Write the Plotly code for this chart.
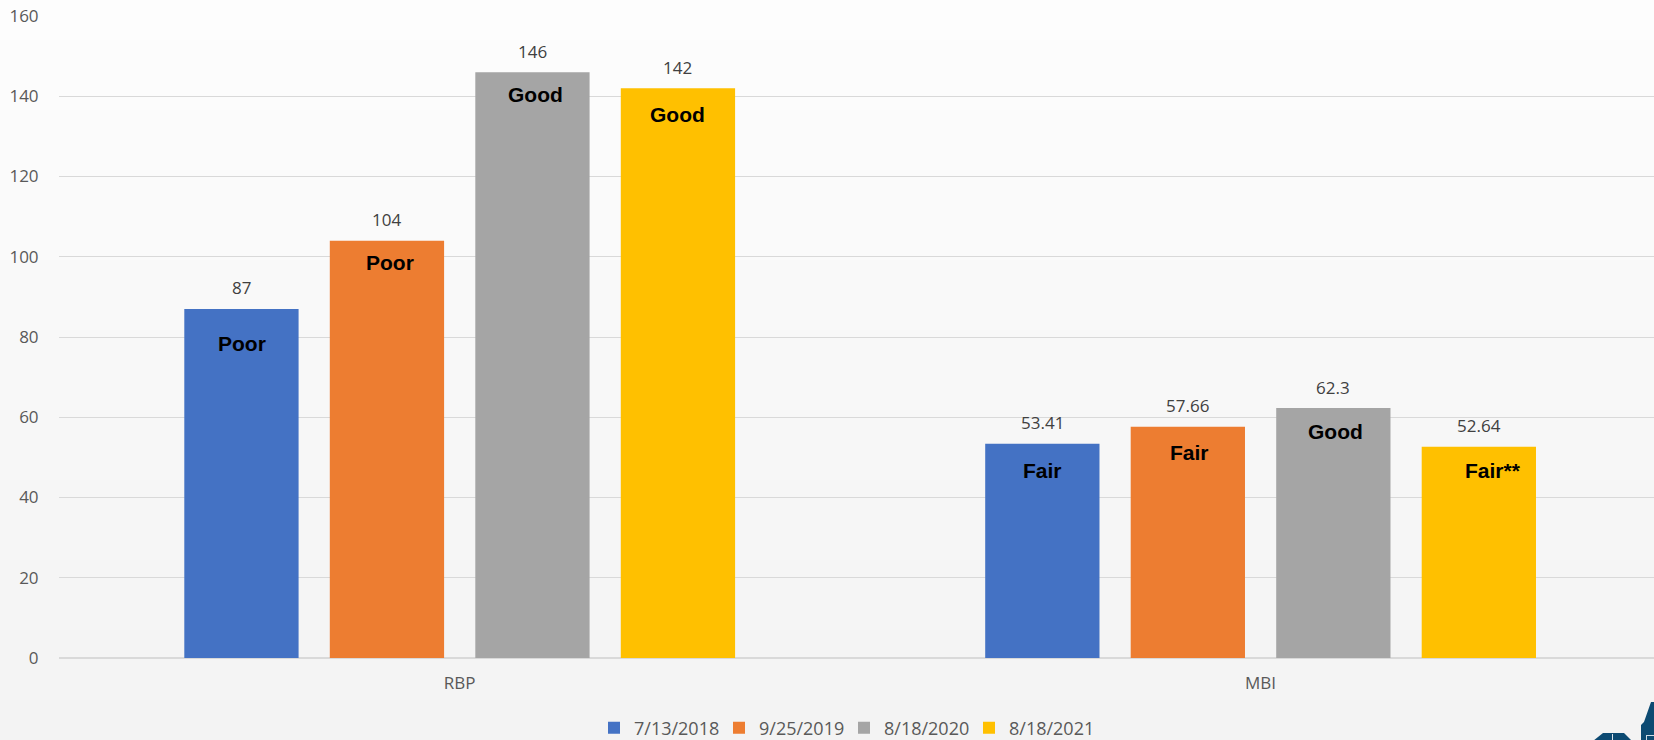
import plotly.graph_objects as go

# ---- data ----
categories = ["RBP", "MBI"]
survey_dates = ["7/13/2018", "9/25/2019", "8/18/2020", "8/18/2021"]
scores_2018 = [87, 53.41]
scores_2019 = [104, 57.66]
scores_2020 = [146, 62.3]
scores_2021 = [142, 52.64]
ratings_2018 = ["Poor", "Fair"]
ratings_2019 = ["Poor", "Fair"]
ratings_2020 = ["Good", "Good"]
ratings_2021 = ["Good", "Fair**"]
y_ticks = [0, 20, 40, 60, 80, 100, 120, 140, 160]

series_values = [scores_2018, scores_2019, scores_2020, scores_2021]
series_ratings = [ratings_2018, ratings_2019, ratings_2020, ratings_2021]

# ---- style ----
colors = ["#4472C4", "#ED7D31", "#A5A5A5", "#FFC000"]
W, H = 1654, 740
M_L, M_R, M_T, M_B = 59, 0, 16, 82
PLOT_W = W - M_L - M_R
PLOT_H = H - M_T - M_B
SLOT = 0.18167          # spacing between bars in a group (category units)
BAR_W = 0.1427          # bar width (category units)
X_RANGE = [-0.5003, 1.4912]

# rating label placement: pixels below bar top, and horizontal nudge
rating_drop_px = [[35, 27], [22, 26], [22, 23.5], [26.7, 24]]
rating_dx_px = [[1, 0], [3, 2], [3.5, 2], [0, 14]]

fig = go.Figure()
annotations = []

for j, (name, vals, rats) in enumerate(zip(survey_dates, series_values, series_ratings)):
    xs = [i + (j - 1.5) * SLOT for i in range(len(categories))]
    fig.add_trace(go.Bar(
        x=xs, y=vals, width=BAR_W, name=name,
        marker=dict(color=colors[j], line=dict(width=0)),
        hoverinfo="skip",
    ))
    for i, (x, v, r) in enumerate(zip(xs, vals, rats)):
        # numeric value above the bar
        annotations.append(dict(
            x=x, y=v, xref="x", yref="y", text=f"{v:g}", showarrow=False,
            yanchor="middle", yshift=21,
            font=dict(family="Open Sans", size=17, color="#404040"),
        ))
        # condition rating inside the bar
        annotations.append(dict(
            x=x, y=v, xref="x", yref="y", text=f"<b>{r}</b>", showarrow=False,
            yanchor="middle", yshift=-rating_drop_px[j][i], xshift=rating_dx_px[j][i],
            font=dict(family="Liberation Sans, Arial", size=21, color="#000000"),
        ))

# soft vertical background gradient
shapes = []
n_bands = 74
top_c, bot_c = (253, 253, 253), (243, 243, 243)
for k in range(n_bands):
    t = (k + 0.5) / n_bands
    c = tuple(round(top_c[m] + (bot_c[m] - top_c[m]) * t) for m in range(3))
    py0 = H * k / n_bands
    py1 = H * (k + 1) / n_bands + 0.5
    shapes.append(dict(
        type="rect", xref="paper", yref="paper", layer="below",
        x0=-M_L / PLOT_W, x1=1 + 0.01,
        y0=(H - M_B - py1) / PLOT_H, y1=(H - M_B - py0) / PLOT_H,
        fillcolor=f"rgb{c}", line=dict(width=0),
    ))


def px2paper(px, py):
    return (px - M_L) / PLOT_W, (H - M_B - py) / PLOT_H


def path_from(points):
    pts = [px2paper(*p) for p in points]
    return "M" + " L".join(f"{a:.5f},{b:.5f}" for a, b in pts) + " Z"


# corner logo fragment
logo_color = "#0C4A72"
shapes.append(dict(type="path", xref="paper", yref="paper", layer="above",
                   path=path_from([(1593, 741), (1603, 733), (1624, 733), (1632, 741)]),
                   fillcolor=logo_color, line=dict(width=0)))
shapes.append(dict(type="path", xref="paper", yref="paper", layer="above",
                   path=path_from([(1612, 734), (1613, 734), (1613, 741), (1612, 741)]),
                   fillcolor="#dfe7ee", line=dict(width=0)))
shapes.append(dict(type="path", xref="paper", yref="paper", layer="above",
                   path=path_from([(1641, 741), (1641, 725), (1644, 722), (1651, 702),
                                   (1655, 702), (1655, 741)]),
                   fillcolor=logo_color, line=dict(width=0)))
shapes.append(dict(type="path", xref="paper", yref="paper", layer="above",
                   path=path_from([(1646, 735), (1655, 735), (1655, 741), (1646, 741)]),
                   fillcolor="#cfdbe5", line=dict(width=0)))
shapes.append(dict(type="path", xref="paper", yref="paper", layer="above",
                   path=path_from([(1647, 736), (1655, 736), (1655, 741), (1647, 741)]),
                   fillcolor=logo_color, line=dict(width=0)))

fig.update_layout(
    width=W, height=H,
    margin=dict(l=M_L, r=M_R, t=M_T, b=M_B, pad=0),
    paper_bgcolor="#f5f5f5",
    plot_bgcolor="rgba(0,0,0,0)",
    barmode="overlay",
    font=dict(family="Open Sans", color="#595959"),
    showlegend=True,
    legend=dict(
        orientation="h", x=594 / W, xref="container", xanchor="left",
        y=1 - 728 / H, yref="container", yanchor="middle",
        font=dict(family="Open Sans", size=18, color="#595959"),
        bgcolor="rgba(0,0,0,0)", itemclick=False, itemdoubleclick=False,
        traceorder="normal", entrywidth=80, tracegroupgap=0,
    ),
    xaxis=dict(
        range=X_RANGE, tickmode="array", tickvals=list(range(len(categories))),
        ticktext=categories, showgrid=False, zeroline=False,
        showline=False, ticks="outside", ticklen=10, tickcolor="rgba(0,0,0,0)",
        tickfont=dict(family="Open Sans", size=17, color="#595959"),
        fixedrange=True,
    ),
    yaxis=dict(
        range=[0, 160], tickmode="array", tickvals=y_ticks,
        showgrid=True, gridcolor="#d9d9d9", gridwidth=1.3,
        zeroline=True, zerolinecolor="#d9d9d9", zerolinewidth=1.5,
        showline=False, ticks="outside", ticklen=16, tickcolor="rgba(0,0,0,0)",
        tickfont=dict(family="Open Sans", size=17, color="#595959"),
        fixedrange=True,
    ),
    annotations=annotations,
    shapes=shapes,
)

fig.write_html("out.html", include_plotlyjs=True, config={"displayModeBar": False})
